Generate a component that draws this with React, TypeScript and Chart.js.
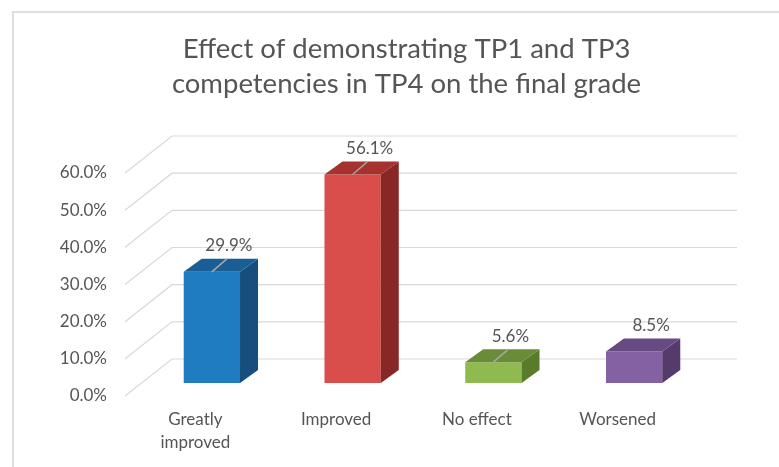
import { useEffect, useRef } from "react";
import { Chart, registerables } from "chart.js";

Chart.register(...registerables);

// ---- data ----
const categories: (string | string[])[] = [["Greatly", "improved"], "Improved", "No effect", "Worsened"];
const values: number[] = [29.9, 56.1, 5.6, 8.5];
const yTicks: number[] = [0, 10, 20, 30, 40, 50, 60];
const titleLines: string[] = ["Effect of demonstrating TP1 and TP3", "competencies in TP4 on the final grade"];

// ---- styles ----
const frontColors = ["#1f7cc1", "#d94e4a", "#8eba50", "#8461a3"];
const sideColors = ["#164e7d", "#882826", "#587c2c", "#563a6c"];
const topColors = ["#1a5e96", "#a63230", "#698c38", "#684a82"];
const leaderShown = [true, true, true, false];
const TEXT = "#555555";
const GRID = "#d9d9d9";
const FONT = "Lato";

const G = { gdx: 47, gdy: -37, bdx: 16.5, bdy: -13, ddx: 18, ddy: -13 };

const threeD = {
  id: "threeD",
  beforeDraw(chart: any) {
    const { ctx, width, height } = chart;
    ctx.save();
    ctx.fillStyle = "#ffffff";
    ctx.fillRect(0, 0, width, height);
    ctx.strokeStyle = "#dedede";
    ctx.lineWidth = 2;
    ctx.beginPath();
    ctx.moveTo(13, height);
    ctx.lineTo(13, 12);
    ctx.lineTo(width, 12);
    ctx.stroke();
    ctx.restore();
  },
  beforeDatasetsDraw(chart: any) {
    const { ctx, chartArea, scales } = chart;
    const y = scales.y;
    ctx.save();
    ctx.strokeStyle = GRID;
    ctx.lineWidth = 1.2;
    y.ticks.forEach((t: any) => {
      const yf = y.getPixelForValue(t.value);
      ctx.beginPath();
      ctx.moveTo(chartArea.left, yf);
      ctx.lineTo(chartArea.left + G.gdx, yf + G.gdy);
      ctx.lineTo(chartArea.right + G.gdx + 2, yf + G.gdy);
      ctx.stroke();
    });
    ctx.restore();
    ctx.save();
    ctx.translate(G.bdx, G.bdy);
  },
  afterDatasetsDraw(chart: any) {
    const ctx = chart.ctx;
    ctx.restore();
    const meta = chart.getDatasetMeta(0);
    meta.data.forEach((bar: any, i: number) => {
      const { x, y, base, width } = bar.getProps(["x", "y", "base", "width"], true);
      const l = x - width / 2 + G.bdx;
      const r = x + width / 2 + G.bdx;
      const t = y + G.bdy;
      const b = base + G.bdy;
      ctx.save();
      ctx.fillStyle = sideColors[i];
      ctx.beginPath();
      ctx.moveTo(r, t);
      ctx.lineTo(r + G.ddx, t + G.ddy);
      ctx.lineTo(r + G.ddx, b + G.ddy);
      ctx.lineTo(r, b);
      ctx.closePath();
      ctx.fill();
      ctx.fillStyle = topColors[i];
      ctx.beginPath();
      ctx.moveTo(l, t);
      ctx.lineTo(r, t);
      ctx.lineTo(r + G.ddx, t + G.ddy);
      ctx.lineTo(l + G.ddx, t + G.ddy);
      ctx.closePath();
      ctx.fill();
      const cx = x + G.bdx;
      if (leaderShown[i]) {
        ctx.strokeStyle = "#a6a6a6";
        ctx.lineWidth = 1.6;
        ctx.beginPath();
        ctx.moveTo(cx, t);
        ctx.lineTo(cx + 15, t - 13);
        ctx.stroke();
      }
      ctx.fillStyle = TEXT;
      ctx.font = `17px ${FONT}`;
      ctx.textAlign = "center";
      ctx.textBaseline = "middle";
      ctx.fillText(values[i].toFixed(1) + "%", cx + 17, t - 26);
      ctx.restore();
    });
  },
};

export default function App() {
  const ref = useRef<HTMLCanvasElement | null>(null);
  useEffect(() => {
    document.body.style.margin = "0";
    const canvas = ref.current;
    if (!canvas) return;
    const chart = new Chart(canvas, {
      type: "bar",
      data: {
        labels: categories as any,
        datasets: [
          {
            data: values,
            backgroundColor: frontColors,
            borderWidth: 0,
            barPercentage: 0.4,
            categoryPercentage: 1,
          },
        ],
      },
      options: {
        animation: false,
        responsive: false,
        events: [],
        layout: { padding: { left: 0, right: 91, top: 0, bottom: 0 } },
        plugins: {
          legend: { display: false },
          tooltip: { enabled: false },
          title: {
            display: true,
            fullSize: false,
            text: titleLines,
            color: TEXT,
            font: { family: FONT, size: 27.5, weight: "normal", lineHeight: "35px" },
            padding: { top: 32, bottom: 71 },
          },
        },
        scales: {
          x: {
            grid: { display: false, drawTicks: false },
            border: { display: false },
            ticks: {
              color: TEXT,
              font: { family: FONT, size: 17, lineHeight: "23px" },
              padding: 12.5,
              maxRotation: 0,
              autoSkip: false,
            },
            afterFit(scale: any) {
              scale.height = 71;
            },
          },
          y: {
            min: yTicks[0],
            max: yTicks[yTicks.length - 1],
            grid: { display: false, drawTicks: false },
            border: { display: false },
            ticks: {
              stepSize: yTicks[1] - yTicks[0],
              color: TEXT,
              font: { family: FONT, size: 17 },
              padding: 18,
              callback: (v: any) => Number(v).toFixed(1) + "%",
            },
            afterFit(scale: any) {
              scale.width = 125;
            },
          },
        },
      },
      plugins: [threeD],
    });
    return () => chart.destroy();
  }, []);
  return (
    <div style={{ width: 779, height: 467 }}>
      <canvas ref={ref} width={779} height={467} style={{ display: "block" }} />
    </div>
  );
}
